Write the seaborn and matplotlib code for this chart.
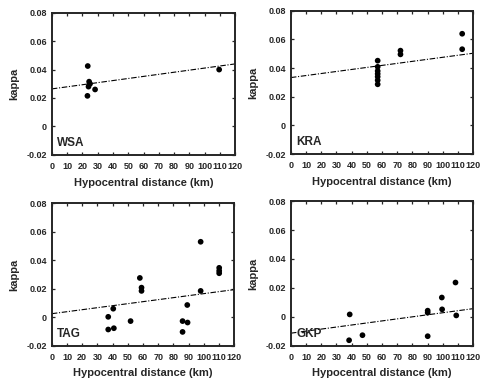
import matplotlib
matplotlib.use("Agg")
import matplotlib.pyplot as plt
import numpy as np
import pandas as pd
import seaborn as sns

# station names (panel labels)
stations = ["WSA", "KRA", "TAG", "GKP"]

# hypocentral distance (km) and kappa
wsa_dist = [23.5, 24.4, 25.0, 24.0, 28.3, 23.3, 109.5]
wsa_kappa = [0.0425, 0.0315, 0.0300, 0.0280, 0.0260, 0.0215, 0.0400]

kra_dist = [57.1, 57.1, 57.1, 57.1, 57.1, 57.1, 57.1, 72.1, 72.1, 112.7, 112.7]
kra_kappa = [0.0452, 0.0409, 0.0380, 0.0360, 0.0340, 0.0315, 0.0287,
             0.0522, 0.0496, 0.0640, 0.0532]

tag_dist = [97.9, 110.1, 110.1, 110.1, 57.9, 59.0, 59.0, 97.9, 40.4, 89.1,
            37.1, 51.8, 86.0, 89.3, 37.1, 40.8, 86.0]
tag_kappa = [0.0529, 0.0346, 0.0325, 0.0308, 0.0275, 0.0207, 0.0184, 0.0184,
             0.0059, 0.0085, 0.0002, -0.0028, -0.0028, -0.0038, -0.0087,
             -0.0078, -0.0104]

gkp_dist = [108.3, 99.3, 99.5, 90.0, 90.0, 108.8, 38.7, 47.1, 38.3, 90.0]
gkp_kappa = [0.0237, 0.0133, 0.0051, 0.0042, 0.0028, 0.0009, 0.0016,
             -0.0128, -0.0163, -0.0135]

# fitted line: kappa at 0 km and at 120 km
fit_dist = [0, 120]
fit_kappa = {
    "WSA": [0.0264, 0.0440],
    "KRA": [0.0334, 0.0504],
    "TAG": [0.0024, 0.0193],
    "GKP": [-0.0114, 0.0056],
}

x_ticks = list(range(0, 121, 10))
y_ticks = [-0.02, 0, 0.02, 0.04, 0.06, 0.08]
y_tick_labels = ["-0.02", "0", "0.02", "0.04", "0.06", "0.08"]

points = {
    "WSA": (wsa_dist, wsa_kappa),
    "KRA": (kra_dist, kra_kappa),
    "TAG": (tag_dist, tag_kappa),
    "GKP": (gkp_dist, gkp_kappa),
}

sns.set_style("ticks")
plt.rcParams["font.family"] = ["Liberation Sans", "DejaVu Sans"]
plt.rcParams["font.weight"] = "bold"

fig = plt.figure(figsize=(4.8, 3.87), dpi=100)
fig.patch.set_facecolor("white")

# [left, bottom, width, height] in figure fractions
boxes = {
    "WSA": [0.108, 0.600, 0.382, 0.367],
    "KRA": [0.606, 0.602, 0.380, 0.370],
    "TAG": [0.108, 0.107, 0.380, 0.368],
    "GKP": [0.606, 0.107, 0.380, 0.373],
}

for name in stations:
    ax = fig.add_axes(boxes[name])
    d, k = points[name]
    df = pd.DataFrame({"dist": d, "kappa": k})
    line_df = pd.DataFrame({"dist": fit_dist, "kappa": fit_kappa[name]})

    sns.lineplot(data=line_df, x="dist", y="kappa", ax=ax, color="black",
                 linewidth=0.8, linestyle=(0, (5, 1.5, 1, 1.5)))
    sns.scatterplot(data=df, x="dist", y="kappa", ax=ax, color="black",
                    s=17, edgecolor="none")

    ax.set_xlim(0, 120)
    ax.set_ylim(-0.02, 0.08)
    ax.set_xticks(x_ticks)
    ax.set_xticklabels([str(t) for t in x_ticks], fontsize=6.5, fontweight="bold")
    ax.set_yticks(y_ticks)
    ax.set_yticklabels(y_tick_labels, fontsize=6.5, fontweight="bold")
    ax.tick_params(direction="in", top=True, right=True, length=2.5,
                   width=0.9, pad=3.5)
    ax.tick_params(axis="x", pad=5)
    for sp in ax.spines.values():
        sp.set_linewidth(1.4)
        sp.set_visible(True)

    ax.set_xlabel("Hypocentral distance (km)", fontsize=8, fontweight="bold",
                  labelpad=5)
    ax.set_ylabel("kappa", fontsize=8, fontweight="bold", labelpad=5)
    ax.text(0.03, 0.04, name, transform=ax.transAxes, fontsize=8.5,
            fontweight="bold", ha="left", va="bottom")

fig.savefig("out.png", dpi=100, facecolor="white")
